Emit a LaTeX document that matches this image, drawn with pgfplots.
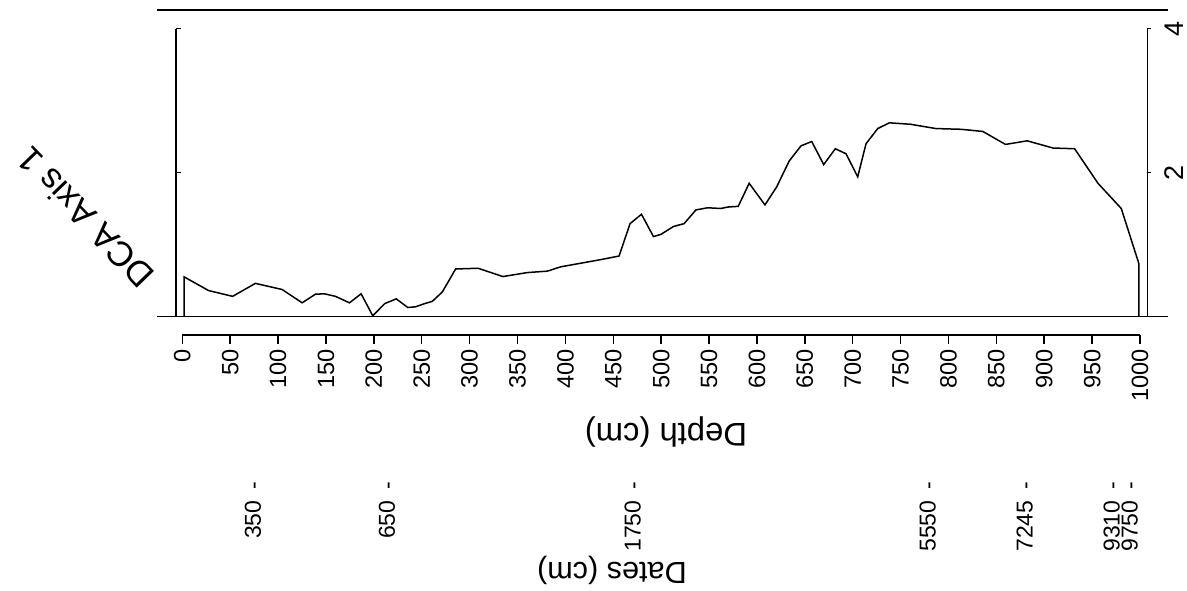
\documentclass[border=0pt]{standalone}
\usepackage{pgfplots}
\pgfplotsset{compat=1.18}
\usepackage{fontspec}
\setmainfont{Liberation Sans}
\pgfplotsset{/pgf/number format/assume math mode=true, /pgf/number format/1000 sep={}}
\tikzset{datelab/.style={rotate=90, anchor=east, inner sep=0pt, font=\fontsize{11.5}{12}\selectfont}}

\pgfplotstableread{
x y
2 0
2 0.55
27.5 0.36
52.6 0.28
76.3 0.46
104.2 0.375
125.1 0.19
139 0.31
148.4 0.315
159.9 0.28
174.5 0.19
186.7 0.315
198.8 0.01
211.4 0.18
223.3 0.245
235.4 0.125
243.5 0.135
253.2 0.18
260.9 0.21
271.4 0.34
285.3 0.66
308.6 0.67
334.7 0.555
360.2 0.61
381.1 0.63
395 0.69
436.8 0.79
455.9 0.84
467.4 1.29
479.3 1.42
491.8 1.11
499.5 1.14
512.7 1.25
523.8 1.29
536.1 1.48
548.3 1.51
562.2 1.50
569.2 1.52
580.3 1.53
591.7 1.85
608.2 1.55
620.4 1.80
633.5 2.16
645.8 2.37
657 2.43
669.5 2.11
681.6 2.33
692.8 2.26
705 1.94
713.7 2.40
725.9 2.61
738 2.69
760 2.67
786.8 2.61
813 2.60
835.6 2.57
859.3 2.39
881.9 2.44
908.8 2.34
931.4 2.33
955.8 1.85
980.1 1.50
998.6 0.73
998.6 0
}\dcadata

\begin{document}
\begin{tikzpicture}
\useasboundingbox (0,0) rectangle (593.5pt,295pt);
% frame lines + curve
\begin{axis}[at={(78.5pt,136.75pt)}, anchor=south west, scale only axis,
  width=505.5pt, height=153.25pt,
  xmin=-26.4, xmax=1028.9, ymin=0, ymax=4.257,
  axis x line=box, axis y line=none, xtick=\empty, ytick=\empty,
  axis line style={line width=0.85pt, -}, clip=false]
\addplot[black, line width=0.75pt] table[x=x, y=y] {\dcadata};
\end{axis}
% left y axis
\begin{axis}[at={(88pt,136.75pt)}, anchor=south west, scale only axis,
  width=485.65pt, height=144pt, xmin=0, xmax=1, ymin=0, ymax=4,
  axis x line=none, axis y line*=left, ytick={0,2,4}, yticklabels={\relax,\relax,\relax},
  tick align=inside, major tick length=2.5pt,
  axis line style={line width=0.75pt, -}, tick style={line width=0.75pt, black}]
\end{axis}
% right y axis
\begin{axis}[at={(88pt,136.75pt)}, anchor=south west, scale only axis,
  width=485.65pt, height=144pt, xmin=0, xmax=1, ymin=0, ymax=4,
  axis x line=none, axis y line*=right, ytick={2,4},
  tick align=outside, major tick length=2pt,
  axis line style={line width=0.75pt, -}, tick style={line width=0.75pt, black},
  yticklabel shift=6.5pt,
  yticklabel style={rotate=90, anchor=north, inner sep=0pt, font=\fontsize{13.5}{14}\selectfont}]
\end{axis}
% depth axis
\begin{axis}[at={(91.15pt,127.5pt)}, anchor=south west, scale only axis,
  width=478.85pt, height=20pt, xmin=0, xmax=1000, ymin=0, ymax=1,
  axis x line*=bottom, axis y line=none, xtick distance=50,
  tick align=outside, major tick length=4.5pt,
  axis line style={line width=0.75pt, -}, tick style={line width=0.75pt, black},
  xticklabel shift=2.5pt,
  xticklabel style={rotate=90, anchor=east, inner sep=0pt, font=\fontsize{11.8}{12}\selectfont},
  clip=false]
\node[datelab] at (axis cs:73.8,-3.65) {350\hspace{0.5em}-};
\node[datelab] at (axis cs:213.7,-3.65) {650\hspace{0.5em}-};
\node[datelab] at (axis cs:470.4,-3.65) {1750\hspace{0.5em}-};
\node[datelab] at (axis cs:778.3,-3.65) {5550\hspace{0.5em}-};
\node[datelab] at (axis cs:879.6,-3.65) {7245\hspace{0.5em}-};
\node[datelab] at (axis cs:970.5,-3.65) {9310\hspace{0.5em}-};
\node[datelab] at (axis cs:989.3,-3.65) {9750\hspace{0.5em}-};
\end{axis}
\node[rotate=180, font=\fontsize{16.4}{18}\selectfont] at (333pt,79pt) {Depth (cm)};
\node[rotate=180, font=\fontsize{15.3}{17}\selectfont] at (306pt,10pt) {Dates (cm)};
\node[rotate=134, font=\fontsize{17.5}{19}\selectfont] at (42.5pt,186pt) {DCA Axis 1};
\end{tikzpicture}
\end{document}
